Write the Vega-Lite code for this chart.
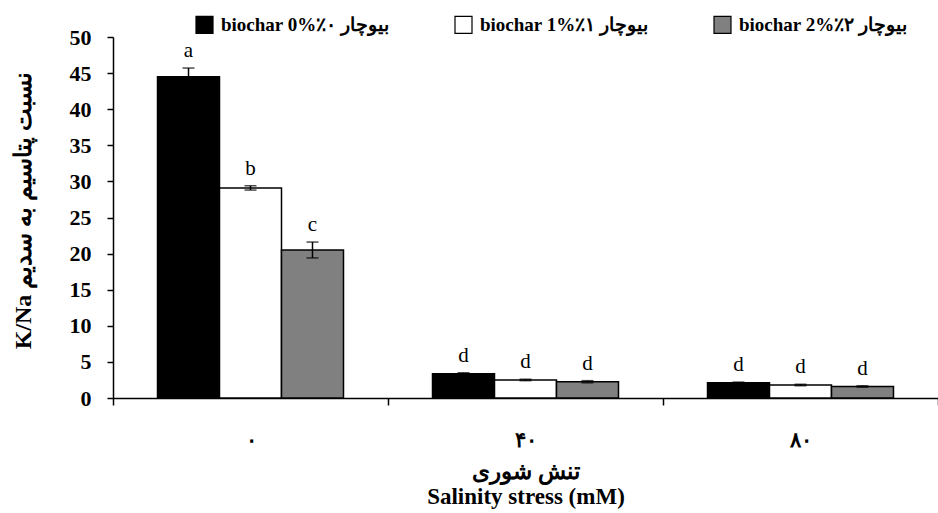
{
  "$schema": "https://vega.github.io/schema/vega-lite/v6.json",
  "width": 825,
  "height": 361,
  "autosize": "none",
  "padding": {"left": 113, "top": 37, "right": 0, "bottom": 115},
  "background": "white",
  "config": {
    "view": {"stroke": null},
    "font": "Liberation Serif",
    "axis": {"labelOverlap": false}
  },
  "data": {
    "values": [
      {"salinity": "۰", "biochar": "biochar 0%\u202Bبیوچار ٠٪\u202C", "value": 44.5, "lo": 43.3, "hi": 45.7, "letter": "a"},
      {"salinity": "۰", "biochar": "biochar 1%\u202Bبیوچار ١٪\u202C", "value": 29.1, "lo": 28.8, "hi": 29.4, "letter": "b"},
      {"salinity": "۰", "biochar": "biochar 2%\u202Bبیوچار ٢٪\u202C", "value": 20.5, "lo": 19.4, "hi": 21.6, "letter": "c"},
      {"salinity": "۴۰", "biochar": "biochar 0%\u202Bبیوچار ٠٪\u202C", "value": 3.35, "lo": 3.2, "hi": 3.5, "letter": "d"},
      {"salinity": "۴۰", "biochar": "biochar 1%\u202Bبیوچار ١٪\u202C", "value": 2.5, "lo": 2.4, "hi": 2.6, "letter": "d"},
      {"salinity": "۴۰", "biochar": "biochar 2%\u202Bبیوچار ٢٪\u202C", "value": 2.25, "lo": 2.1, "hi": 2.4, "letter": "d"},
      {"salinity": "۸۰", "biochar": "biochar 0%\u202Bبیوچار ٠٪\u202C", "value": 2.1, "lo": 2.0, "hi": 2.2, "letter": "d"},
      {"salinity": "۸۰", "biochar": "biochar 1%\u202Bبیوچار ١٪\u202C", "value": 1.8, "lo": 1.7, "hi": 1.9, "letter": "d"},
      {"salinity": "۸۰", "biochar": "biochar 2%\u202Bبیوچار ٢٪\u202C", "value": 1.6, "lo": 1.5, "hi": 1.7, "letter": "d"}
    ]
  },
  "encoding": {
    "x": {
      "field": "salinity",
      "type": "nominal",
      "sort": ["۰", "۴۰", "۸۰"],
      "scale": {"paddingInner": 0, "paddingOuter": 0},
      "axis": {
        "title": ["تنش شوری", "Salinity stress (mM)"],
        "titleFont": "Liberation Serif",
        "titleFontSize": 23,
        "titleFontWeight": "bold",
        "titleColor": "black",
        "titleLineHeight": 25,
        "titlePadding": 10,
        "labelAngle": 0,
        "labelFont": "Liberation Serif",
        "labelFontSize": 21,
        "labelFontWeight": "bold",
        "labelColor": "black",
        "labelPadding": 24,
        "tickBand": "extent",
        "tickSize": 7,
        "tickColor": "black",
        "tickWidth": 1.5,
        "domainColor": "black",
        "domainWidth": 1.5
      }
    },
    "xOffset": {
      "field": "biochar",
      "type": "nominal",
      "scale": {"paddingInner": 0, "paddingOuter": 0.718}
    },
    "y": {
      "type": "quantitative",
      "scale": {"domain": [0, 50], "nice": false},
      "axis": {
        "values": [0, 5, 10, 15, 20, 25, 30, 35, 40, 45, 50],
        "labelOverlap": false,
        "grid": false,
        "title": "K/Na         نسبت پتاسیم به سدیم",
        "titleFont": "Liberation Serif",
        "titleFontSize": 24,
        "titleFontWeight": "bold",
        "titleColor": "black",
        "titleX": -90,
        "titleY": 173,
        "titleAlign": "center",
        "titleBaseline": "middle",
        "labelFont": "Liberation Serif",
        "labelFontSize": 22,
        "labelFontWeight": "bold",
        "labelColor": "black",
        "labelPadding": 16,
        "tickSize": 6,
        "tickColor": "black",
        "tickWidth": 1.5,
        "domainColor": "black",
        "domainWidth": 1.5
      }
    }
  },
  "layer": [
    {
      "mark": {"type": "bar", "stroke": "black", "strokeWidth": 1.5},
      "encoding": {
        "y": {"field": "value"},
        "color": {
          "field": "biochar",
          "type": "nominal",
          "scale": {"range": ["black", "white", "#808080"]},
          "legend": {
            "title": null,
            "orient": "none",
            "legendX": 82,
            "legendY": -22,
            "direction": "horizontal",
            "symbolType": "square",
            "symbolSize": 289,
            "symbolStrokeColor": "black",
            "symbolStrokeWidth": 1.2,
            "symbolOpacity": 1,
            "labelFont": "Liberation Serif",
            "labelFontSize": 19,
            "labelFontWeight": "bold",
            "labelColor": "black",
            "labelOffset": 7,
            "labelLimit": 400,
            "columnPadding": 62
          }
        }
      }
    },
    {
      "mark": {"type": "rule", "color": "black", "strokeWidth": 1.5},
      "encoding": {
        "y": {"field": "lo"},
        "y2": {"field": "hi"}
      }
    },
    {
      "mark": {"type": "tick", "color": "black", "orient": "horizontal", "size": 12, "thickness": 1.5},
      "encoding": {"y": {"field": "hi"}}
    },
    {
      "mark": {"type": "tick", "color": "black", "orient": "horizontal", "size": 12, "thickness": 1.5},
      "encoding": {"y": {"field": "lo"}}
    },
    {
      "mark": {"type": "text", "font": "Liberation Serif", "fontSize": 21, "color": "black", "baseline": "alphabetic", "dy": -11},
      "encoding": {
        "y": {"field": "hi"},
        "text": {"field": "letter"}
      }
    }
  ]
}
